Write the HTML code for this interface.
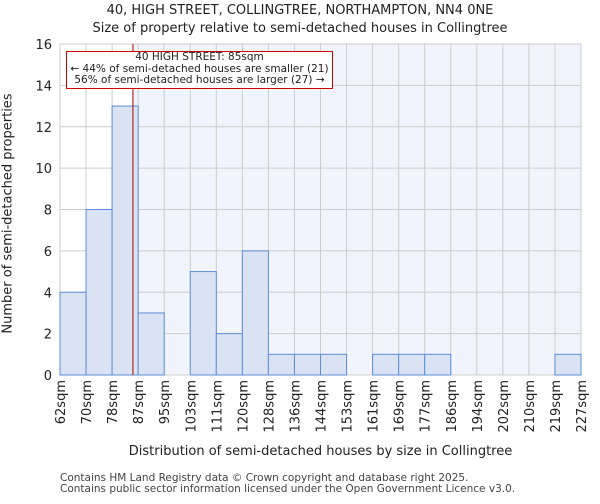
<!DOCTYPE html>
<html><head><meta charset="utf-8"><style>
body{margin:0;background:#fff;font-family:"DejaVu Sans","Liberation Sans",sans-serif}
</style></head><body>
<svg width="600" height="500" xmlns="http://www.w3.org/2000/svg" font-family="DejaVu Sans, Liberation Sans, sans-serif">
<g id="root"></g>
</svg>
<script>
const categories=["62sqm","70sqm","78sqm","87sqm","95sqm","103sqm","111sqm","120sqm","128sqm","136sqm","144sqm","153sqm","161sqm","169sqm","177sqm","186sqm","194sqm","202sqm","210sqm","219sqm","227sqm"];
const counts=[4,8,13,3,0,5,2,6,1,1,1,0,1,1,1,0,0,0,0,1];
const yTicks=[0,2,4,6,8,10,12,14,16];
const markerPos=2.8;
const L=60,R=581,T=44,B=375,yMax=16;
const bw=(R-L)/counts.length;
const x=i=>L+i*bw, y=v=>B-(v/yMax)*(B-T);
const ns="http://www.w3.org/2000/svg", root=document.getElementById('root');
function mk(t,a,p){const e=document.createElementNS(ns,t);for(const k in a)e.setAttribute(k,a[k]);(p||root).appendChild(e);return e;}
const mx=x(markerPos);
let e=mk('rect',{x:L,y:T,width:mx-L,height:B-T,fill:'#ffffff'});


e=mk('rect',{x:mx,y:T,width:R-mx,height:B-T,fill:'#f1f4fc'});


for(let i=0;i<=counts.length;i++){e=mk('line',{x1:x(i),x2:x(i),y1:T,y2:B,stroke:'#cccccc','stroke-width':1});

}
yTicks.forEach(v=>{e=mk('line',{x1:L,x2:R,y1:y(v),y2:y(v),stroke:'#cccccc','stroke-width':1});


const t=mk('text',{x:L-8,y:y(v)+5,'text-anchor':'end','font-size':13,fill:'#222'});t.textContent=v;

});
counts.forEach((c,i)=>{if(c<=0)return;e=mk('rect',{x:x(i),y:y(c),width:bw,height:B-y(c),fill:'#dae3f3',stroke:'#5a8ed8','stroke-width':1});

});
e=mk('line',{x1:mx,x2:mx,y1:T,y2:B,stroke:'#b00000','stroke-width':1});


categories.forEach((c,i)=>{const t=mk('text',{transform:`translate(${x(i)+5},380) rotate(-90)`,'text-anchor':'end','font-size':13,fill:'#222'});t.textContent=c;

});
</script>
<div style="position:absolute;left:0;top:0;width:600px;height:500px;pointer-events:none">
<div style="position:absolute;top:2px;width:600px;text-align:center;font-size:13px;line-height:18px;color:#222">40, HIGH STREET, COLLINGTREE, NORTHAMPTON, NN4 0NE<br>Size of property relative to semi-detached houses in Collingtree</div>
<div style="position:absolute;left:66px;top:51px;width:265px;height:36px;border:1px solid #cc0000;background:#fff;text-align:center;font-size:10.5px;line-height:11.5px;padding-top:0px;color:#222;white-space:nowrap">40 HIGH STREET: 85sqm<br>← 44% of semi-detached houses are smaller (21)<br>56% of semi-detached houses are larger (27) →</div>
<div style="position:absolute;left:-127px;top:206px;width:270px;text-align:center;transform:rotate(-90deg);font-size:13px;color:#222;white-space:nowrap">Number of semi-detached properties</div>
<div style="position:absolute;left:60px;top:444px;width:521px;text-align:center;font-size:13px;color:#222">Distribution of semi-detached houses by size in Collingtree</div>
<div style="position:absolute;left:60px;top:473px;font-size:10.5px;line-height:11px;color:#444">Contains HM Land Registry data © Crown copyright and database right 2025.<br>Contains public sector information licensed under the Open Government Licence v3.0.</div>
</div>
</body></html>
